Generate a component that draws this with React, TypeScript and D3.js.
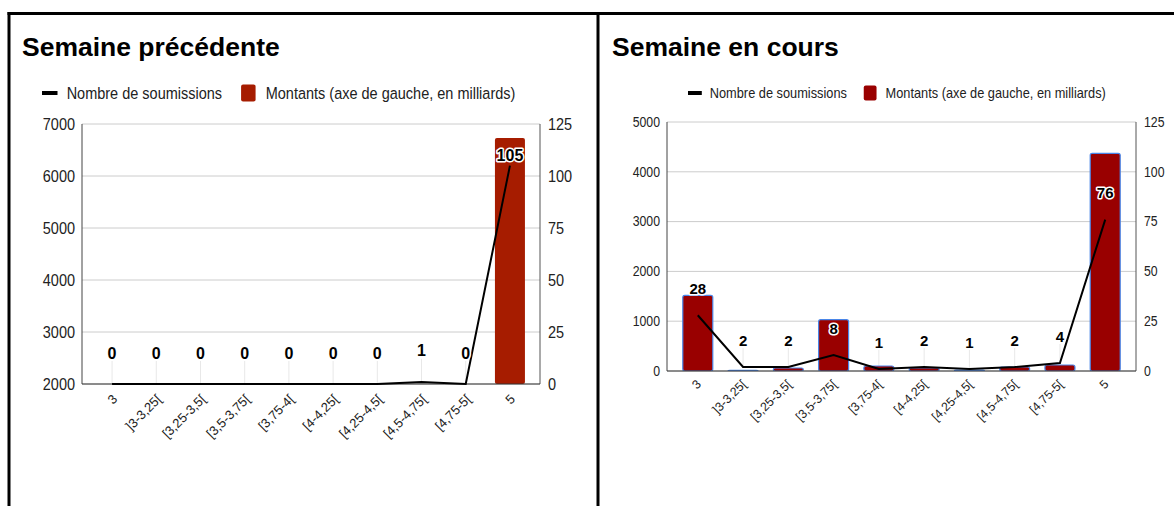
import React from "react";
import * as d3 from "d3";

// catégories communes aux deux graphiques
const categories = ["3", "]3-3,25[", "[3,25-3,5[", "[3,5-3,75[", "[3,75-4[", "[4-4,25[", "[4,25-4,5[", "[4,5-4,75[", "[4,75-5[", "5"];

// semaine précédente
const prevAmounts = [0, 0, 0, 0, 0, 0, 0, 40, 0, 6730];
const prevCounts = [0, 0, 0, 0, 0, 0, 0, 1, 0, 105];
const prevLeftTicks = [2000, 3000, 4000, 5000, 6000, 7000];

// semaine en cours
const currAmounts = [1520, 15, 60, 1030, 100, 60, 20, 80, 120, 4370];
const currCounts = [28, 2, 2, 8, 1, 2, 1, 2, 4, 76];
const currLeftTicks = [0, 1000, 2000, 3000, 4000, 5000];

const rightTicks = [0, 25, 50, 75, 100, 125];

const FONT = "'Liberation Sans', Arial, sans-serif";
const SY = 1.2; // le texte de l'original est un peu étiré en hauteur

type ChartProps = {
  id: string;
  title: string;
  titleX: number;
  amounts: number[];
  counts: number[];
  leftTicks: number[];
  box: { left: number; right: number; top: number; bottom: number };
  barColor: string;
  barStroke: string | null;
  legendX: number;
  legendFont: number;
  tickFont: number;
  xFont: number;
  labelFont: number;
  labelOffset: number;
  xLabelDx: number;
  xLabelDy: number;
};

// texte étiré verticalement autour de son point d'ancrage
const Txt = ({ x, y, children, ...rest }: any) => (
  <text transform={`translate(${x},${y}) scale(1,${SY})`} {...rest}>{children}</text>
);

function Chart(p: ChartProps) {
  const { box } = p;
  const x = d3.scalePoint<string>().domain(categories).range([box.left, box.right]).padding(0.68);
  const yL = d3.scaleLinear().domain(d3.extent(p.leftTicks) as [number, number]).range([box.bottom, box.top]);
  const yR = d3.scaleLinear().domain([0, 125]).range([box.bottom, box.top]);
  const barW = 30;

  const line = d3.line<number>()
    .x((_, i) => x(categories[i])!)
    .y(d => yR(d));

  // légende
  const lf = p.legendFont;
  const ly = 93;
  const t1 = "Nombre de soumissions";
  const t2 = "Montants (axe de gauche, en milliards)";
  const t1w = lf * 10.73;

  return (
    <g fontFamily={FONT}>
      <text x={p.titleX} y={56} fontSize={26.5} fontWeight="bold" fill="#000">{p.title}</text>

      <rect x={p.legendX} y={ly - 2} width={lf + 1} height={4} fill="#000" />
      <Txt x={p.legendX + lf * 1.7} y={ly} dominantBaseline="central" fontSize={lf} fill="#222">{t1}</Txt>
      <rect x={p.legendX + lf * 1.7 + t1w + lf * 1.3} y={ly - lf * 0.58} width={lf} height={lf * 1.16} rx={2}
        fill={p.barColor} />
      <Txt x={p.legendX + lf * 1.7 + t1w + lf * 3.0} y={ly} dominantBaseline="central" fontSize={lf} fill="#222">{t2}</Txt>

      <defs>
        <clipPath id={`clip-${p.id}`}>
          <rect x={box.left} y={box.top - 20} width={box.right - box.left} height={box.bottom - box.top + 20} />
        </clipPath>
      </defs>

      {/* grille */}
      {p.leftTicks.map(t => (
        <line key={t} x1={box.left} x2={box.right} y1={yL(t)} y2={yL(t)} stroke="#cccccc" />
      ))}
      {p.leftTicks.map(t => (
        <Txt key={"l" + t} x={box.left - 7} y={yL(t)} textAnchor="end" dominantBaseline="central"
          fontSize={p.tickFont} fill="#222">{t}</Txt>
      ))}
      {rightTicks.map(t => (
        <Txt key={"r" + t} x={box.right + 8} y={yR(t)} dominantBaseline="central"
          fontSize={p.tickFont} fill="#222">{t}</Txt>
      ))}
      <line x1={box.left} x2={box.left} y1={box.top} y2={box.bottom} stroke="#444" />
      <line x1={box.right} x2={box.right} y1={box.top} y2={box.bottom} stroke="#555" />

      {/* traits verticaux des étiquettes */}
      {p.counts.map((c, i) => {
        const py = yR(c);
        const ly2 = Math.max(py - p.labelOffset, box.top + 31);
        return <line key={"s" + i} x1={x(categories[i])} x2={x(categories[i])} y1={ly2 + 8} y2={py}
          stroke="#e8e8e8" />;
      })}

      {/* barres */}
      <g clipPath={`url(#clip-${p.id})`}>
        {p.amounts.map((a, i) => {
          const top = yL(a);
          if (top >= box.bottom) return null;
          return <rect key={"b" + i} x={x(categories[i])! - barW / 2} y={top} width={barW}
            height={box.bottom - top} rx={2} fill={p.barColor}
            stroke={p.barStroke ?? "none"} strokeWidth={1.2} />;
        })}
      </g>

      <line x1={box.left} x2={box.right} y1={box.bottom} y2={box.bottom} stroke="#333" />

      <path d={line(p.counts) ?? ""} fill="none" stroke="#000" strokeWidth={2} />

      {/* étiquettes des valeurs */}
      {p.counts.map((c, i) => {
        const py = Math.max(yR(c) - p.labelOffset, box.top + 31);
        return <text key={"v" + i} x={x(categories[i])} y={py} textAnchor="middle" dominantBaseline="central"
          fontSize={p.labelFont} fontWeight="bold" fill="#000" stroke="#fff" strokeWidth={3}
          paintOrder="stroke" strokeLinejoin="round">{c}</text>;
      })}

      {/* axe des x */}
      {categories.map(c => (
        <text key={"x" + c} transform={`translate(${x(c)! + p.xLabelDx},${box.bottom + p.xLabelDy}) rotate(-45)`}
          textAnchor="end" fontSize={p.xFont} fill="#222">{c}</text>
      ))}
    </g>
  );
}

export default function App() {
  return (
    <svg width={1174} height={506} style={{ position: "absolute", left: 0, top: 0, background: "#fff" }}>
      <rect x={0} y={0} width={1174} height={506} fill="#fff" />
      <Chart id="prev" title="Semaine précédente" titleX={22} amounts={prevAmounts} counts={prevCounts}
        leftTicks={prevLeftTicks} box={{ left: 82, right: 540, top: 124, bottom: 384 }}
        barColor="#a61c00" barStroke={null} legendX={42} legendFont={14.5} tickFont={14.5}
        xFont={13} labelFont={16} labelOffset={31} xLabelDx={6} xLabelDy={16} />
      <Chart id="curr" title="Semaine en cours" titleX={612} amounts={currAmounts} counts={currCounts}
        leftTicks={currLeftTicks} box={{ left: 667, right: 1136, top: 122, bottom: 371 }}
        barColor="#990000" barStroke="#4a86e8" legendX={688} legendFont={12.8} tickFont={12.3}
        xFont={12.3} labelFont={15} labelOffset={27} xLabelDx={4} xLabelDy={14} />
      {/* cadres */}
      <line x1={9} x2={9} y1={12} y2={506} stroke="#000" strokeWidth={3} />
      <line x1={598} x2={598} y1={12} y2={506} stroke="#000" strokeWidth={3} />
      <line x1={7.5} x2={1174} y1={13.5} y2={13.5} stroke="#000" strokeWidth={3} />
    </svg>
  );
}
